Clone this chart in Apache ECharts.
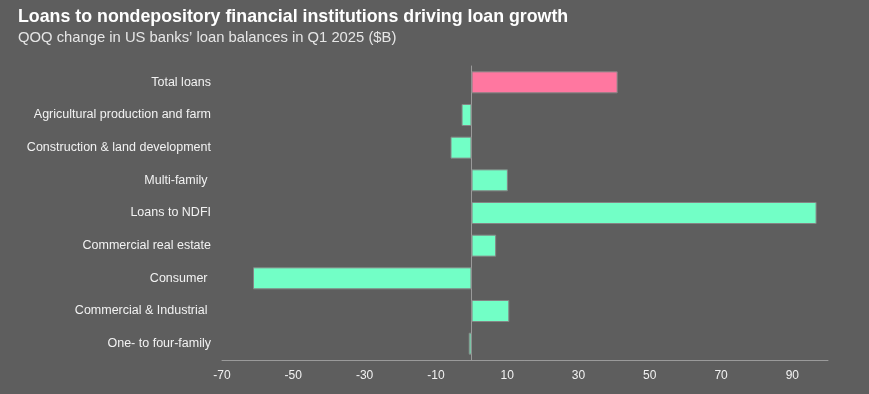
<!DOCTYPE html>
<html>
<head>
<meta charset="utf-8">
<script src="https://cdn.jsdelivr.net/npm/echarts@6/dist/echarts.min.js"></script>
<style>
  html, body { margin: 0; padding: 0; background: #5e5e5e; }
  #chart { width: 869px; height: 394px; }
</style>
</head>
<body>
<div id="chart"></div>
<script>
// categories top to bottom
const categories = [
  'Total loans',
  'Agricultural production and farm',
  'Construction & land development',
  'Multi-family ',
  'Loans to NDFI',
  'Commercial real estate',
  'Consumer ',
  'Commercial & Industrial ',
  'One- to four-family'
]
// QOQ change, $B
const values = [41, -2.8, -5.9, 10.2, 96.8, 6.9, -61.3, 10.6, -0.8]
const tickLabels = [-70, -50, -30, -10, 10, 30, 50, 70, 90]

const pink = '#ff77a0'
const green = '#72ffc6'

const chart = echarts.init(document.getElementById('chart'))
chart.setOption({
  backgroundColor: '#5e5e5e',
  textStyle: { fontFamily: 'Liberation Sans' },
  title: {
    text: 'Loans to nondepository financial institutions driving loan growth',
    subtext: 'QOQ change in US banks\u2019 loan balances in Q1 2025 ($B)',
    left: 13,
    top: 3,
    itemGap: 4,
    textStyle: { color: '#ffffff', fontSize: 17.8, fontWeight: 'bold' },
    subtextStyle: { color: '#e6e6e6', fontSize: 14.8 }
  },
  grid: { left: 222, right: 41, top: 66, bottom: 34 },
  xAxis: {
    type: 'value',
    min: -70,
    max: 100,
    axisLine: { show: true, lineStyle: { color: '#9a9a9a', width: 1 } },
    axisTick: { show: false },
    splitLine: { show: false },
    axisLabel: {
      customValues: tickLabels,
      color: '#f2f2f2',
      fontSize: 12,
      margin: 10
    }
  },
  yAxis: {
    type: 'category',
    inverse: true,
    data: categories,
    axisLine: { show: true, lineStyle: { color: '#9a9a9a', width: 1 } },
    axisTick: { show: false },
    axisLabel: {
      color: '#f2f2f2',
      fontSize: 12.5,
      margin: 11
    }
  },
  series: [{
    type: 'bar',
    barWidth: 22,
    data: values.map((v, i) => ({
      value: v,
      itemStyle: { color: i === 0 ? pink : green }
    })),
    itemStyle: { borderColor: '#858585', borderWidth: 1 },
    silent: true
  }]
})
</script>
</body>
</html>
